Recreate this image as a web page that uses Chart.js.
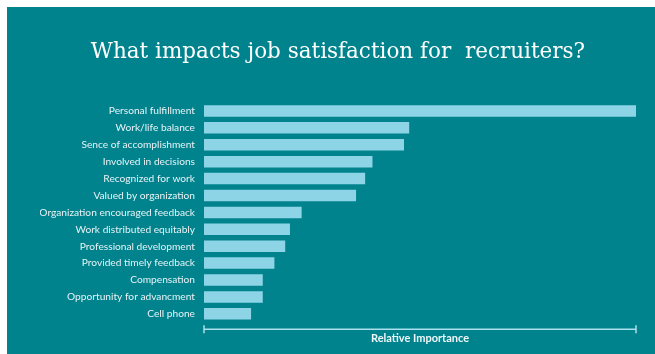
<!DOCTYPE html>
<html>
<head>
<meta charset="utf-8">
<script src="https://cdn.jsdelivr.net/npm/chart.js@4"></script>
<style>
html,body{margin:0;padding:0;background:#ffffff;width:655px;height:354px;overflow:hidden;}
#bg{position:absolute;left:7px;top:7px;width:648px;height:347px;background:#01838e;}
#wrap{position:absolute;left:0;top:0;width:655px;height:354px;}
</style>
</head>
<body>
<div id="bg"></div>
<div id="wrap"><canvas id="c" width="655" height="354"></canvas></div>
<script>
const titleText = "What impacts job satisfaction for  recruiters?";
const axisTitle = "Relative Importance";
const categories = [
  "Personal fulfillment",
  "Work/life balance",
  "Sence of accomplishment",
  "Involved in decisions",
  "Recognized for work",
  "Valued by organization",
  "Organization encouraged feedback",
  "Work distributed equitably",
  "Professional development",
  "Provided timely feedback",
  "Compensation",
  "Opportunity for advancment",
  "Cell phone"
];
const importance = [100, 47.5, 46.3, 39, 37.3, 35.2, 22.6, 19.9, 18.8, 16.3, 13.6, 13.6, 10.9];
const axisMin = 0;
const axisMax = 100;

const axisLinePlugin = {
  id: 'axisLine',
  afterDraw(chart) {
    const xs = chart.scales.x;
    const ctx = chart.ctx;
    const y = chart.chartArea.bottom + 7;
    const x0 = xs.getPixelForValue(axisMin);
    const x1 = xs.getPixelForValue(axisMax);
    ctx.save();
    ctx.strokeStyle = '#a9e1ec';
    ctx.lineWidth = 1.5;
    ctx.beginPath();
    ctx.moveTo(x0, y); ctx.lineTo(x1, y);
    ctx.moveTo(x0, y - 4); ctx.lineTo(x0, y + 4);
    ctx.moveTo(x1, y - 4); ctx.lineTo(x1, y + 4);
    ctx.stroke();
    ctx.restore();
  }
};

new Chart(document.getElementById('c'), {
  type: 'bar',
  data: {
    labels: categories,
    datasets: [{
      data: importance,
      backgroundColor: '#8dd4e6',
      borderWidth: 0,
      barPercentage: 0.68,
      categoryPercentage: 1
    }]
  },
  options: {
    indexAxis: 'y',
    responsive: false,
    animation: false,
    layout: { padding: { left: 40, right: 19, top: 0, bottom: 4.5 } },
    plugins: {
      legend: { display: false },
      tooltip: { enabled: false },
      title: {
        display: true,
        text: titleText,
        color: '#ffffff',
        font: { family: 'DejaVu Serif', size: 21.5, weight: 'normal', lineHeight: 1.2 },
        padding: { top: 40, bottom: 36.7 }
      }
    },
    scales: {
      x: {
        min: axisMin,
        max: axisMax,
        grid: { display: false, drawTicks: false },
        border: { display: false },
        ticks: { display: false },
        title: {
          display: true,
          text: axisTitle,
          color: '#eef8fa',
          font: { family: 'Lato', size: 11, weight: 'bold', lineHeight: 1.2 },
          padding: { top: 10, bottom: 4 }
        }
      },
      y: {
        grid: { display: false, drawTicks: false },
        border: { display: false },
        ticks: {
          color: '#e6f3f5',
          padding: 9,
          font: { family: 'Lato', size: 10.2 }
        },
        afterFit(scale) { scale.width = 164; }
      }
    }
  },
  plugins: [axisLinePlugin]
});
</script>
</body>
</html>
